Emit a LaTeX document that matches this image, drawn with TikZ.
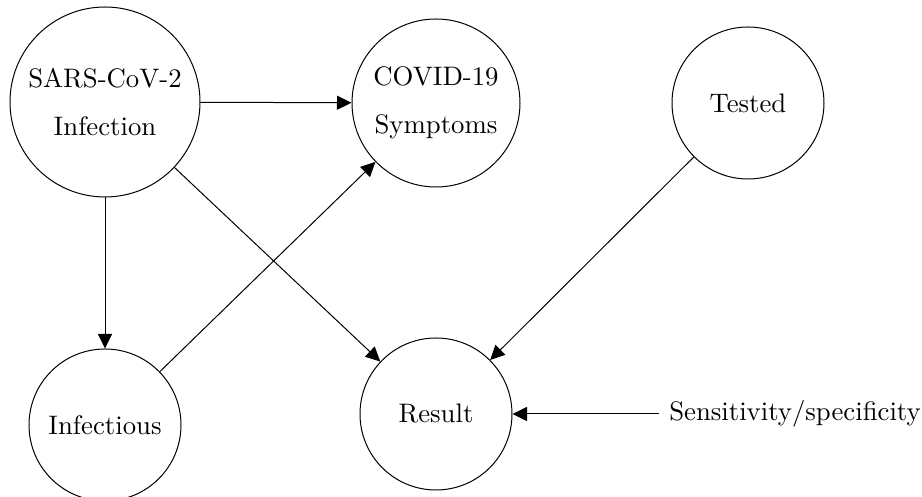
\documentclass[tikz,border=0pt]{standalone}
\usetikzlibrary{arrows.meta}
\begin{document}
\begin{tikzpicture}[x=0.4pt,y=-0.4pt,
  every node/.style={font=\fontsize{10.7}{12.8}\selectfont},
  state/.style={circle,draw,line width=0.4pt,inner sep=0pt,align=center},
  link/.style={-{Triangle[length=5.8pt,width=5.6pt]},line width=0.4pt}]
\useasboundingbox (0,0) rectangle (922,497);
\node[state,minimum size=76pt] (sars) at (105,102) {SARS-CoV-2\\[6.4pt]Infection};
\node[state,minimum size=67.2pt] (symp) at (436,103) {COVID-19\\[6.4pt]Symptoms};
\node[state,minimum size=60.8pt] (tested) at (748,103) {Tested};
\node[state,minimum size=60.8pt] (infs) at (105,425) {Infectious};
\node[state,minimum size=60.8pt] (result) at (436,414) {Result};
\node[inner sep=4pt] (sens) at (795,414) {Sensitivity/specificity};
\draw[link] (sars) -- (symp);
\draw[link] (sars) -- (infs);
\draw[link] (sars) -- (result);
\draw[link] (infs) -- (symp);
\draw[link] (tested) -- (result);
\draw[link] (sens.west) -- (result);
\end{tikzpicture}
\end{document}
